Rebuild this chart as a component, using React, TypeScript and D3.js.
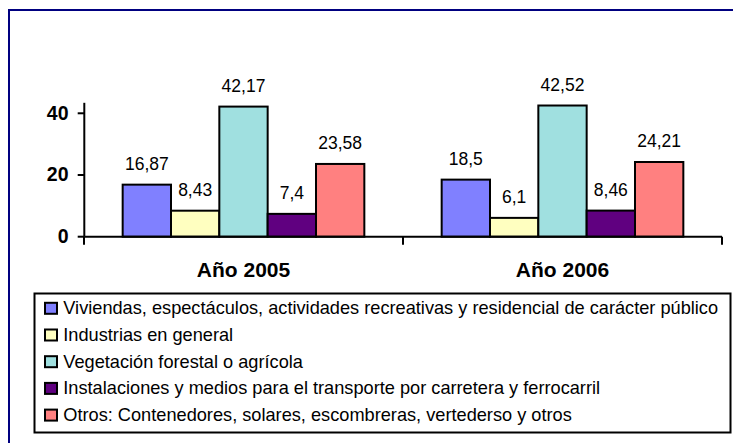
import React from "react";
import * as d3 from "d3";

const categories = ["Año 2005", "Año 2006"];
const seriesNames = [
  "Viviendas, espectáculos, actividades recreativas y residencial de carácter público",
  "Industrias en general",
  "Vegetación forestal o agrícola",
  "Instalaciones y medios para el transporte por carretera y ferrocarril",
  "Otros: Contenedores, solares, escombreras, vertederso y otros",
];
const seriesColors = ["#8080FF", "#FFFFC0", "#A0E0E0", "#600080", "#FF8080"];
const values2005 = [16.87, 8.43, 42.17, 7.4, 23.58];
const values2006 = [18.5, 6.1, 42.52, 8.46, 24.21];
const yTicks = [0, 20, 40];
const valuesByCategory = [values2005, values2006];

const W = 733;
const H = 443;
const FONT = "'Liberation Sans', Arial, sans-serif";

export default function App() {
  const x0 = d3.scaleBand<string>().domain(categories).range([84, 722]).paddingInner(0).paddingOuter(0);
  const x1 = d3
    .scaleBand<number>()
    .domain(d3.range(seriesNames.length))
    .range([0, x0.bandwidth()])
    .paddingInner(0)
    .paddingOuter(0.8);
  const y = d3.scaleLinear().domain([0, 43.4]).range([236.7, 102.8]);
  const fmt = (v: number) => String(v).replace(".", ",");

  const legendTop = 308.3;
  const legendStep = 26.7;

  return (
    <svg
      width={W}
      height={H}
      style={{ position: "absolute", left: 0, top: 0, background: "#fff" }}
      fontFamily={FONT}
    >
      <rect x={0} y={0} width={W} height={H} fill="#fff" />
      <rect x={9} y={10} width={740} height={450} fill="none" stroke="#000080" strokeWidth={2} />

      {/* bars */}
      {categories.map((c, ci) => (
        <g key={c} transform={`translate(${x0(c)},0)`}>
          {valuesByCategory[ci].map((v, si) => (
            <g key={si}>
              <rect
                x={x1(si)!}
                y={y(v)}
                width={x1.bandwidth()}
                height={y(0) - y(v)}
                fill={seriesColors[si]}
                stroke="#000"
                strokeWidth={2}
              />
              <text
                x={x1(si)! + x1.bandwidth() / 2}
                y={y(v) - 15}
                textAnchor="middle"
                fontSize={17.5}
                fill="#000"
              >
                {fmt(v)}
              </text>
            </g>
          ))}
          <text
            x={x0.bandwidth() / 2}
            y={277}
            textAnchor="middle"
            fontSize={21}
            fontWeight="bold"
            fill="#000"
          >
            {c}
          </text>
        </g>
      ))}

      {/* y axis */}
      <line x1={84.3} x2={84.3} y1={y.range()[1]} y2={y(0)} stroke="#000" strokeWidth={2} />
      {yTicks.map((t) => (
        <g key={t}>
          <line x1={77.7} x2={84.3} y1={y(t)} y2={y(t)} stroke="#000" strokeWidth={2} />
          <text x={68.5} y={y(t) + 6.5} textAnchor="end" fontSize={19.5} fontWeight="bold" fill="#000">
            {t}
          </text>
        </g>
      ))}

      {/* x axis */}
      <line x1={84.3} x2={722} y1={y(0)} y2={y(0)} stroke="#000" strokeWidth={2} />
      {[...categories.map((c) => x0(c)!), x0.range()[1]].map((xv, i) => (
        <line key={i} x1={xv} x2={xv} y1={y(0)} y2={y(0) + 8} stroke="#000" strokeWidth={2} />
      ))}

      {/* legend */}
      <rect x={34.5} y={293.5} width={696} height={139} fill="#fff" stroke="#000" strokeWidth={2} />
      {seriesNames.map((name, i) => (
        <g key={name} transform={`translate(0,${legendTop + i * legendStep})`}>
          <rect x={45} y={-5.5} width={12} height={11} fill={seriesColors[i]} stroke="#000" strokeWidth={2} />
          <text x={63.3} y={6} fontSize={18.2} fill="#000">
            {name}
          </text>
        </g>
      ))}
    </svg>
  );
}
